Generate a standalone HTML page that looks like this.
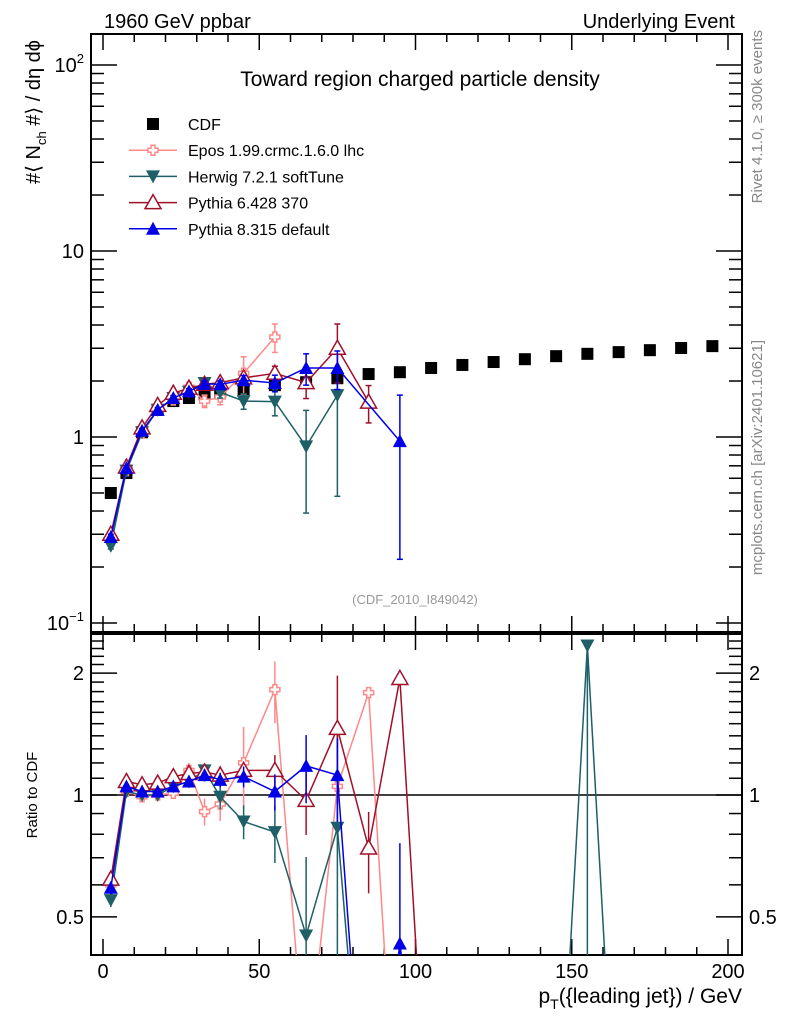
<!DOCTYPE html>
<html><head><meta charset="utf-8"><style>
html,body{margin:0;padding:0;background:#fff;overflow:hidden;width:786px;height:1024px;}
svg{display:block;font-family:"Liberation Sans",sans-serif;}
</style></head><body>
<svg id="chart" width="786" height="1024" viewBox="0 0 786 1024">
</svg>
<script>
const xCenters=[2.5,7.5,12.5,17.5,22.5,27.5,32.5,37.5,45,55,65,75,85,95,105,115,125,135,145,155,165,175,185,195];
const cdfVals=[0.50,0.64,1.06,1.40,1.56,1.62,1.70,1.75,1.81,1.90,1.97,2.07,2.18,2.23,2.35,2.44,2.53,2.62,2.72,2.80,2.86,2.93,3.01,3.08];
const eposVals=[0.29,0.66,1.05,1.40,1.58,1.85,1.56,1.64,2.2,3.45];
const eposErr=[0.01,0.02,0.03,0.04,0.05,0.08,0.12,0.15,0.5,0.6];
const herwigVals=[0.26,0.66,1.06,1.40,1.62,1.75,1.95,1.74,1.56,1.55,0.89,1.68];
const herwigErr=[0.01,0.02,0.03,0.04,0.05,0.06,0.08,0.12,0.15,0.25,0.5,1.2];
const py6Vals=[0.30,0.69,1.12,1.48,1.72,1.83,1.92,1.96,2.08,2.2,1.96,3.0,1.54];
const py6Err=[0.01,0.02,0.03,0.04,0.05,0.06,0.07,0.1,0.1,0.2,0.35,1.05,0.35];
const py8Vals=[0.29,0.68,1.08,1.40,1.62,1.76,1.93,1.92,2.02,1.95,2.35,2.35,null,0.95];
const py8Err=[0.01,0.02,0.03,0.04,0.05,0.06,0.07,0.08,0.12,0.2,0.45,0.55,0,0.73];
const eposRatio=[0.60,1.02,0.99,1.00,1.01,1.15,0.91,0.95,1.20,1.82,0.2,1.05,1.79,0.1];
const herwigRatio=[0.55,1.02,1.00,1.00,1.05,1.08,1.15,0.99,0.86,0.81,0.45,0.83,0.1,0.1,0.1,0.1,0.1,0.1,0.1,2.34,0.1];
const py6Ratio=[0.62,1.08,1.06,1.07,1.11,1.13,1.14,1.12,1.15,1.15,0.97,1.46,0.74,1.94,0.1];
const py8Ratio=[0.59,1.05,1.02,1.02,1.05,1.08,1.12,1.09,1.11,1.02,1.18,1.12,0.1,0.43,0.1];
const mainTicks=["10\u207B\u00B9","1","10","10\u00B2"];

const NS="http://www.w3.org/2000/svg";
const svg=document.getElementById('chart');
const L=91,R=742,MT=34,MB=632,RT=634,RB=955;
const X=v=>103+v*3.125;
const Ym=v=>437-186*Math.log10(v);
const Yr=v=>795-405*Math.log10(v);
function el(tag,attrs,parent){const e=document.createElementNS(NS,tag);for(const k in attrs)e.setAttribute(k,attrs[k]);(parent||svg).appendChild(e);return e;}
// draw polyline segments clipped to [top,bot] in y
function clippedLines(pts,top,bot,color,g){
 for(let i=0;i<pts.length-1;i++){let [x1,y1]=pts[i],[x2,y2]=pts[i+1];
  if((y1>bot&&y2>bot)||(y1<top&&y2<top))continue;
  const cl=(xa,ya,xb,yb)=>{if(ya>bot){const t=(bot-yb)/(ya-yb);return [xb+(xa-xb)*t,bot];}if(ya<top){const t=(top-yb)/(ya-yb);return [xb+(xa-xb)*t,top];}return [xa,ya];};
  const a=cl(x1,y1,x2,y2),b=cl(x2,y2,x1,y1);
  el('line',{x1:a[0],y1:a[1],x2:b[0],y2:b[1],stroke:color,'stroke-width':1.5},g);}
}

let t=el('text',{x:104,y:28,'font-size':20});t.textContent='1960 GeV ppbar';

t=el('text',{x:735,y:28,'font-size':20,'text-anchor':'end'});t.textContent='Underlying Event';

t=el('text',{x:420,y:86,'font-size':21,'text-anchor':'middle'});t.textContent='Toward region charged particle density';

t=el('text',{x:415,y:604,'font-size':13,'text-anchor':'middle',fill:'#999'});t.textContent='(CDF_2010_I849042)';

t=el('text',{x:0,y:0,'font-size':15,fill:'#888','text-anchor':'end',transform:'translate(762,30) rotate(-90)'});t.textContent='Rivet 4.1.0, \u2265 300k events';

t=el('text',{x:0,y:0,'font-size':15,fill:'#888','text-anchor':'end',transform:'translate(762,340) rotate(-90)'});t.textContent='mcplots.cern.ch [arXiv:2401.10621]';

t=el('text',{x:0,y:0,'font-size':20,'text-anchor':'end',transform:'translate(40,40) rotate(-90)'});t.innerHTML='#\u27E8 N<tspan font-size="13" dy="6">ch</tspan><tspan dy="-6"> #\u27E9 / d\u03B7 d\u03D5</tspan>';

t=el('text',{x:0,y:0,'font-size':15,'text-anchor':'middle',transform:'translate(37,795) rotate(-90)'});t.textContent='Ratio to CDF';

t=el('text',{x:742,y:1003,'font-size':21,'text-anchor':'end'});t.innerHTML='p<tspan font-size="14" dy="6">T</tspan><tspan dy="-6">({leading jet}) / GeV</tspan>';


let f=el('rect',{x:L,y:MT,width:R-L,height:MB-MT,fill:'none',stroke:'#000','stroke-width':2});

f=el('rect',{x:L,y:RT,width:R-L,height:RB-RT,fill:'none',stroke:'#000','stroke-width':2});


for(let v=0;v<=205;v+=10){const x=X(v);if(x>R)break;const big=v%50===0;const len=big?16:8;
 for(const [top,bot] of [[MT,MB],[RT,RB]]){el('line',{x1:x,x2:x,y1:top,y2:top+len,stroke:'#000','stroke-width':1.5});el('line',{x1:x,x2:x,y1:bot,y2:bot-len,stroke:'#000','stroke-width':1.5});}
 if(big){const tl=el('text',{x:x,y:978,'font-size':20,'text-anchor':'middle'});tl.textContent=String(v);
 }}

for(let d=-1;d<=2;d++){for(let m=1;m<10;m++){const v=m*Math.pow(10,d);const y=Ym(v);if(y<MT||y>MB)continue;const len=m===1?26:13;
 el('line',{x1:L,x2:L+len,y1:y,y2:y,stroke:'#000','stroke-width':1.5});el('line',{x1:R,x2:R-len,y1:y,y2:y,stroke:'#000','stroke-width':1.5});}}
mainTicks.forEach((s,i)=>{const y=Ym(Math.pow(10,i-1));const tl=el('text',{x:84,y:y+7,'font-size':20,'text-anchor':'end'});
 if(i===0)tl.innerHTML='10<tspan font-size="13" dy="-9">\u22121</tspan>';else if(i===3)tl.innerHTML='10<tspan font-size="13" dy="-9">2</tspan>';else tl.textContent=s;
 });

for(let v=0.4;v<=2.51;v+=0.1){const r=Math.round(v*10)/10;const y=Yr(r);if(y<RT||y>RB)continue;const big=(r===0.5||r===1||r===2);const len=big?26:13;
 el('line',{x1:L,x2:L+len,y1:y,y2:y,stroke:'#000','stroke-width':1.5});el('line',{x1:R,x2:R-len,y1:y,y2:y,stroke:'#000','stroke-width':1.5});
 if(big){for(const [xx,a] of [[84,'end'],[749,'start']]){const tl=el('text',{x:xx,y:y+7,'font-size':20,'text-anchor':a});tl.textContent=String(r);
 }}}
el('line',{x1:L,x2:R,y1:Yr(1),y2:Yr(1),stroke:'#000','stroke-width':1.5});

function marker(g,type,x,y,color){
 if(type==='sq')return el('rect',{x:x-6,y:y-6,width:12,height:12,fill:'#000'},g);
 if(type==='cross')return el('path',{d:`M${x-2},${y-5}h4v3h3v4h-3v3h-4v-3h-3v-4h3z`,fill:'#fff',stroke:color,'stroke-width':1.5},g);
 if(type==='down')return el('path',{d:`M${x-7},${y-6}L${x+7},${y-6}L${x},${y+7}z`,fill:color},g);
 if(type==='upo')return el('path',{d:`M${x-8},${y+6}L${x+8},${y+6}L${x},${y-8}z`,fill:'#fff',stroke:color,'stroke-width':1.5},g);
 return el('path',{d:`M${x-7},${y+6}L${x+7},${y+6}L${x},${y-7}z`,fill:color},g);
}
const series=[
 {name:'epos',color:'#f88',type:'cross',vals:eposVals,err:eposErr,ratio:eposRatio},
 {name:'herwig',color:'#1e5f68',type:'down',vals:herwigVals,err:herwigErr,ratio:herwigRatio},
 {name:'pythia6',color:'#a0102a',type:'upo',vals:py6Vals,err:py6Err,ratio:py6Ratio},
 {name:'pythia8',color:'#0000e6',type:'up',vals:py8Vals,err:py8Err,ratio:py8Ratio}];

const gc=el('g',{});

cdfVals.forEach((v,i)=>{const m=marker(gc,'sq',X(xCenters[i]),Ym(v));
 });

series.forEach(s=>{
 const g=el('g',{});
 
 const pts=s.vals.map((v,i)=>v==null?null:[X(xCenters[i]),Ym(v)]).filter(p=>p);
 clippedLines(pts,MT,MB,s.color,g);
 s.vals.forEach((v,i)=>{if(v==null)return;const x=X(xCenters[i]);const e=s.err[i];if(e>0){const lo=Math.max(v-e,0.11);
  el('line',{x1:x,x2:x,y1:Ym(v+e),y2:Ym(lo),stroke:s.color,'stroke-width':1.5},g);
  el('line',{x1:x-3,x2:x+3,y1:Ym(v+e),y2:Ym(v+e),stroke:s.color,'stroke-width':1.5},g);
  el('line',{x1:x-3,x2:x+3,y1:Ym(lo),y2:Ym(lo),stroke:s.color,'stroke-width':1.5},g);}
  const m=marker(g,s.type,x,Ym(v),s.color);
  });
 const gr=el('g',{'clip-path':'url(#cr)'});
 
 clippedLines(s.ratio.map((v,i)=>[X(xCenters[i]),Yr(v)]),RT,RB,s.color,gr);
 s.ratio.forEach((v,i)=>{const x=X(xCenters[i]);const y=Yr(v);const rel=(s.err[i]!==undefined&&s.vals[i])?s.err[i]/s.vals[i]:0;
  if(rel>0&&y<RB){el('line',{x1:x,x2:x,y1:Math.max(RT,Yr(v*(1+rel))),y2:Math.min(RB,Yr(Math.max(v*(1-rel),0.05))),stroke:s.color,'stroke-width':1.5},gr);}
  if(s.name==='herwig'&&i===19){el('line',{x1:x,x2:x,y1:y,y2:RB,stroke:s.color,'stroke-width':1.5},gr);}
  if(y>RB)return;
  const m=marker(gr,s.type,x,y,s.color);
  });
});
const defs=el('defs',{});
const c2=el('clipPath',{id:'cr'},defs);el('rect',{x:L,y:RT,width:R-L,height:RB-RT},c2);

const legendLabels=['CDF','Epos 1.99.crmc.1.6.0 lhc','Herwig 7.2.1 softTune','Pythia 6.428 370','Pythia 8.315 default'];
const lg=el('g',{});
legendLabels.forEach((lab,i)=>{const y=124+i*26.2;const e=el('g',{},lg);
 
 if(i===0)marker(e,'sq',153,y);else{const s=series[i-1];el('line',{x1:129,x2:177,y1:y,y2:y,stroke:s.color,'stroke-width':1.5},e);marker(e,s.type,153,y,s.color);}
 const tt=el('text',{x:188,y:y+6,'font-size':16},e);tt.textContent=lab;});
</script>
</body></html>
